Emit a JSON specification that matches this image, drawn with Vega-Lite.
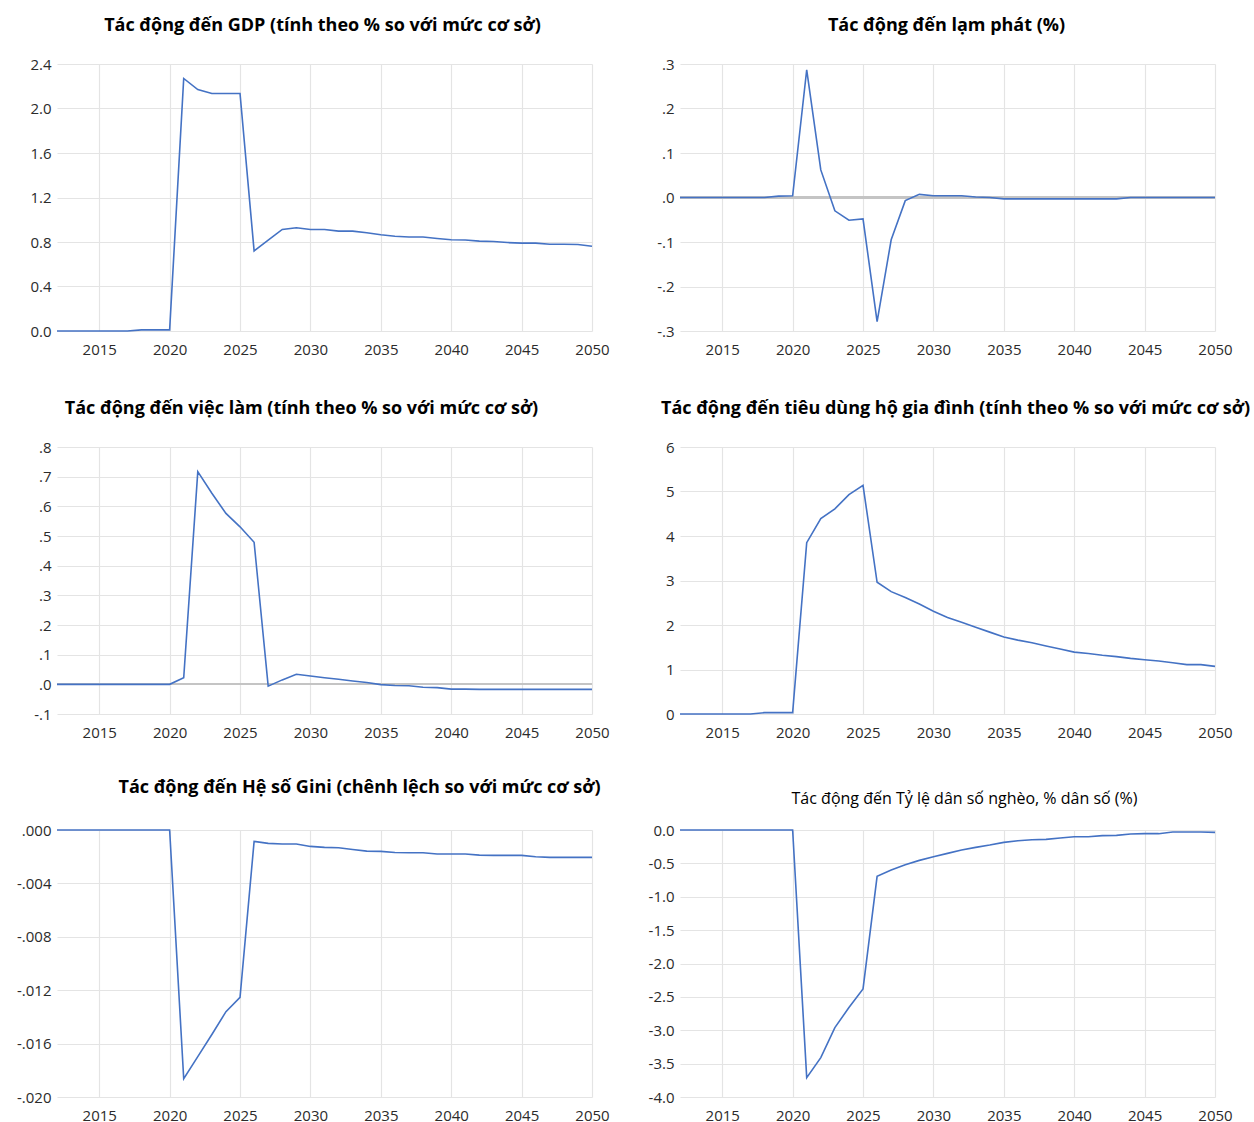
{
  "$schema": "https://vega.github.io/schema/vega-lite/v6.json",
  "background": "white",
  "padding": {"left": 16, "top": 17, "right": 5, "bottom": 5},
  "datasets": {
    "gdp": [
      {"year": 2012, "value": 0}, {"year": 2013, "value": 0}, {"year": 2014, "value": 0}, {"year": 2015, "value": 0},
      {"year": 2016, "value": 0}, {"year": 2017, "value": 0}, {"year": 2018, "value": 0.01}, {"year": 2019, "value": 0.01},
      {"year": 2020, "value": 0.01}, {"year": 2021, "value": 2.27}, {"year": 2022, "value": 2.17}, {"year": 2023, "value": 2.135},
      {"year": 2024, "value": 2.135}, {"year": 2025, "value": 2.135}, {"year": 2026, "value": 0.72}, {"year": 2027, "value": 0.817},
      {"year": 2028, "value": 0.913}, {"year": 2029, "value": 0.928}, {"year": 2030, "value": 0.913}, {"year": 2031, "value": 0.913},
      {"year": 2032, "value": 0.898}, {"year": 2033, "value": 0.898}, {"year": 2034, "value": 0.883}, {"year": 2035, "value": 0.865},
      {"year": 2036, "value": 0.852}, {"year": 2037, "value": 0.845}, {"year": 2038, "value": 0.845}, {"year": 2039, "value": 0.832},
      {"year": 2040, "value": 0.82}, {"year": 2041, "value": 0.818}, {"year": 2042, "value": 0.808}, {"year": 2043, "value": 0.805},
      {"year": 2044, "value": 0.795}, {"year": 2045, "value": 0.79}, {"year": 2046, "value": 0.79}, {"year": 2047, "value": 0.78},
      {"year": 2048, "value": 0.78}, {"year": 2049, "value": 0.778}, {"year": 2050, "value": 0.762}
    ],
    "inflation": [
      {"year": 2012, "value": 0}, {"year": 2013, "value": 0}, {"year": 2014, "value": 0}, {"year": 2015, "value": 0},
      {"year": 2016, "value": 0}, {"year": 2017, "value": 0}, {"year": 2018, "value": 0}, {"year": 2019, "value": 0.003},
      {"year": 2020, "value": 0.004}, {"year": 2021, "value": 0.287}, {"year": 2022, "value": 0.062}, {"year": 2023, "value": -0.03},
      {"year": 2024, "value": -0.051}, {"year": 2025, "value": -0.048}, {"year": 2026, "value": -0.279}, {"year": 2027, "value": -0.095},
      {"year": 2028, "value": -0.007}, {"year": 2029, "value": 0.007}, {"year": 2030, "value": 0.004}, {"year": 2031, "value": 0.004},
      {"year": 2032, "value": 0.004}, {"year": 2033, "value": 0.001}, {"year": 2034, "value": 0}, {"year": 2035, "value": -0.003},
      {"year": 2036, "value": -0.003}, {"year": 2037, "value": -0.003}, {"year": 2038, "value": -0.003}, {"year": 2039, "value": -0.003},
      {"year": 2040, "value": -0.003}, {"year": 2041, "value": -0.003}, {"year": 2042, "value": -0.003}, {"year": 2043, "value": -0.003},
      {"year": 2044, "value": 0}, {"year": 2045, "value": 0}, {"year": 2046, "value": 0}, {"year": 2047, "value": 0},
      {"year": 2048, "value": 0}, {"year": 2049, "value": 0}, {"year": 2050, "value": 0}
    ],
    "employment": [
      {"year": 2012, "value": 0}, {"year": 2013, "value": 0}, {"year": 2014, "value": 0}, {"year": 2015, "value": 0},
      {"year": 2016, "value": 0}, {"year": 2017, "value": 0}, {"year": 2018, "value": 0}, {"year": 2019, "value": 0},
      {"year": 2020, "value": 0}, {"year": 2021, "value": 0.022}, {"year": 2022, "value": 0.717}, {"year": 2023, "value": 0.644},
      {"year": 2024, "value": 0.576}, {"year": 2025, "value": 0.531}, {"year": 2026, "value": 0.479}, {"year": 2027, "value": -0.006},
      {"year": 2028, "value": 0.015}, {"year": 2029, "value": 0.034}, {"year": 2030, "value": 0.028}, {"year": 2031, "value": 0.022},
      {"year": 2032, "value": 0.017}, {"year": 2033, "value": 0.011}, {"year": 2034, "value": 0.006}, {"year": 2035, "value": -0.001},
      {"year": 2036, "value": -0.004}, {"year": 2037, "value": -0.005}, {"year": 2038, "value": -0.01}, {"year": 2039, "value": -0.011},
      {"year": 2040, "value": -0.016}, {"year": 2041, "value": -0.016}, {"year": 2042, "value": -0.017}, {"year": 2043, "value": -0.017},
      {"year": 2044, "value": -0.017}, {"year": 2045, "value": -0.017}, {"year": 2046, "value": -0.017}, {"year": 2047, "value": -0.017},
      {"year": 2048, "value": -0.017}, {"year": 2049, "value": -0.017}, {"year": 2050, "value": -0.017}
    ],
    "consumption": [
      {"year": 2012, "value": 0}, {"year": 2013, "value": 0}, {"year": 2014, "value": 0}, {"year": 2015, "value": 0},
      {"year": 2016, "value": 0}, {"year": 2017, "value": 0}, {"year": 2018, "value": 0.03}, {"year": 2019, "value": 0.03},
      {"year": 2020, "value": 0.03}, {"year": 2021, "value": 3.85}, {"year": 2022, "value": 4.39}, {"year": 2023, "value": 4.61},
      {"year": 2024, "value": 4.93}, {"year": 2025, "value": 5.14}, {"year": 2026, "value": 2.96}, {"year": 2027, "value": 2.75},
      {"year": 2028, "value": 2.62}, {"year": 2029, "value": 2.47}, {"year": 2030, "value": 2.31}, {"year": 2031, "value": 2.17},
      {"year": 2032, "value": 2.06}, {"year": 2033, "value": 1.95}, {"year": 2034, "value": 1.84}, {"year": 2035, "value": 1.73},
      {"year": 2036, "value": 1.66}, {"year": 2037, "value": 1.6}, {"year": 2038, "value": 1.53}, {"year": 2039, "value": 1.46},
      {"year": 2040, "value": 1.39}, {"year": 2041, "value": 1.36}, {"year": 2042, "value": 1.32}, {"year": 2043, "value": 1.29},
      {"year": 2044, "value": 1.25}, {"year": 2045, "value": 1.22}, {"year": 2046, "value": 1.19}, {"year": 2047, "value": 1.15},
      {"year": 2048, "value": 1.11}, {"year": 2049, "value": 1.11}, {"year": 2050, "value": 1.07}
    ],
    "gini": [
      {"year": 2012, "value": 0}, {"year": 2013, "value": 0}, {"year": 2014, "value": 0}, {"year": 2015, "value": 0},
      {"year": 2016, "value": 0}, {"year": 2017, "value": 0}, {"year": 2018, "value": 0}, {"year": 2019, "value": 0},
      {"year": 2020, "value": 0}, {"year": 2021, "value": -0.01863}, {"year": 2022, "value": -0.01698}, {"year": 2023, "value": -0.01532},
      {"year": 2024, "value": -0.01361}, {"year": 2025, "value": -0.01253}, {"year": 2026, "value": -0.00085}, {"year": 2027, "value": -0.001},
      {"year": 2028, "value": -0.00105}, {"year": 2029, "value": -0.00105}, {"year": 2030, "value": -0.00123}, {"year": 2031, "value": -0.0013},
      {"year": 2032, "value": -0.00133}, {"year": 2033, "value": -0.00146}, {"year": 2034, "value": -0.00158}, {"year": 2035, "value": -0.0016},
      {"year": 2036, "value": -0.00168}, {"year": 2037, "value": -0.0017}, {"year": 2038, "value": -0.0017}, {"year": 2039, "value": -0.0018},
      {"year": 2040, "value": -0.0018}, {"year": 2041, "value": -0.0018}, {"year": 2042, "value": -0.00188}, {"year": 2043, "value": -0.0019},
      {"year": 2044, "value": -0.0019}, {"year": 2045, "value": -0.0019}, {"year": 2046, "value": -0.002}, {"year": 2047, "value": -0.00205},
      {"year": 2048, "value": -0.00205}, {"year": 2049, "value": -0.00205}, {"year": 2050, "value": -0.00205}
    ],
    "poverty": [
      {"year": 2012, "value": 0}, {"year": 2013, "value": 0}, {"year": 2014, "value": 0}, {"year": 2015, "value": 0},
      {"year": 2016, "value": 0}, {"year": 2017, "value": 0}, {"year": 2018, "value": 0}, {"year": 2019, "value": 0},
      {"year": 2020, "value": 0}, {"year": 2021, "value": -3.71}, {"year": 2022, "value": -3.41}, {"year": 2023, "value": -2.96},
      {"year": 2024, "value": -2.66}, {"year": 2025, "value": -2.38}, {"year": 2026, "value": -0.695}, {"year": 2027, "value": -0.6},
      {"year": 2028, "value": -0.52}, {"year": 2029, "value": -0.455}, {"year": 2030, "value": -0.4}, {"year": 2031, "value": -0.35},
      {"year": 2032, "value": -0.3}, {"year": 2033, "value": -0.26}, {"year": 2034, "value": -0.225}, {"year": 2035, "value": -0.185},
      {"year": 2036, "value": -0.16}, {"year": 2037, "value": -0.145}, {"year": 2038, "value": -0.14}, {"year": 2039, "value": -0.12},
      {"year": 2040, "value": -0.1}, {"year": 2041, "value": -0.1}, {"year": 2042, "value": -0.085}, {"year": 2043, "value": -0.08},
      {"year": 2044, "value": -0.06}, {"year": 2045, "value": -0.055}, {"year": 2046, "value": -0.055}, {"year": 2047, "value": -0.03},
      {"year": 2048, "value": -0.03}, {"year": 2049, "value": -0.03}, {"year": 2050, "value": -0.035}
    ]
  },
  "config": {
    "locale": {"number": {"decimal": ".", "thousands": ",", "grouping": [3], "currency": ["$", ""], "minus": "-"}},
    "font": "Open Sans",
    "view": {"stroke": null},
    "axis": {
      "grid": true, "gridColor": "#e4e4e4", "gridWidth": 1.2, "domain": false, "ticks": false,
      "labelFont": "Open Sans", "labelFontSize": 15, "labelColor": "#2b2b2b", "title": null,
      "labelOverlap": false, "labelSeparation": 0
    },
    "axisX": {"labelPadding": 11, "labelFlush": false},
    "axisY": {"labelPadding": 6},
    "title": {"font": "Open Sans", "fontSize": 18, "fontWeight": "bold", "color": "#000000", "anchor": "middle", "offset": 22},
    "line": {"color": "#4472C4", "strokeWidth": 1.6}
  },
  "columns": 2,
  "bounds": "flush",
  "spacing": {"row": 116, "column": 88},
  "concat": [
    {
      "width": 535, "height": 267,
      "title": {"text": "Tác động đến GDP (tính theo % so với mức cơ sở)", "dx": -2},
      "data": {"name": "gdp"},
      "mark": "line",
      "encoding": {
        "x": {"field": "year", "type": "quantitative", "scale": {"domain": [2012, 2050], "nice": false, "zero": false},
              "axis": {"values": [2015, 2020, 2025, 2030, 2035, 2040, 2045, 2050], "format": "d"}},
        "y": {"field": "value", "type": "quantitative", "scale": {"domain": [0, 2.4], "nice": false},
              "axis": {"values": [0, 0.4, 0.8, 1.2, 1.6, 2.0, 2.4], "format": ".1f", "tickCount": 20}}
      }
    },
    {
      "width": 535, "height": 267,
      "title": {"text": "Tác động đến lạm phát (%)", "dx": -1},
      "data": {"name": "inflation"},
      "layer": [
        {"mark": {"type": "rule", "color": "#c4c4c4", "strokeWidth": 1.5},
         "encoding": {"y": {"datum": 0, "type": "quantitative", "scale": {"domain": [-0.3, 0.3], "nice": false},
                            "axis": {"values": [-0.3, -0.2, -0.1, 0, 0.1, 0.2, 0.3], "tickCount": 20, "labelExpr": "replace(format(datum.value, '.1f'), '0.', '.')"}}}},
        {
          "mark": "line",
          "encoding": {
            "x": {"field": "year", "type": "quantitative", "scale": {"domain": [2012, 2050], "nice": false, "zero": false},
                  "axis": {"values": [2015, 2020, 2025, 2030, 2035, 2040, 2045, 2050], "format": "d"}},
            "y": {"field": "value", "type": "quantitative", "scale": {"domain": [-0.3, 0.3], "nice": false},
                  "axis": {"values": [-0.3, -0.2, -0.1, 0, 0.1, 0.2, 0.3], "tickCount": 20, "labelExpr": "replace(format(datum.value, '.1f'), '0.', '.')"}}
          }
        }
      ]
    },
    {
      "width": 535, "height": 267,
      "title": {"text": "Tác động đến việc làm (tính theo % so với mức cơ sở)", "dx": -23},
      "data": {"name": "employment"},
      "layer": [
        {"mark": {"type": "rule", "color": "#c4c4c4", "strokeWidth": 1.5},
         "encoding": {"y": {"datum": 0, "type": "quantitative", "scale": {"domain": [-0.1, 0.8], "nice": false},
                            "axis": {"values": [-0.1, 0, 0.1, 0.2, 0.3, 0.4, 0.5, 0.6, 0.7, 0.8], "tickCount": 20, "labelExpr": "replace(format(datum.value, '.1f'), '0.', '.')"}}}},
        {
          "mark": "line",
          "encoding": {
            "x": {"field": "year", "type": "quantitative", "scale": {"domain": [2012, 2050], "nice": false, "zero": false},
                  "axis": {"values": [2015, 2020, 2025, 2030, 2035, 2040, 2045, 2050], "format": "d"}},
            "y": {"field": "value", "type": "quantitative", "scale": {"domain": [-0.1, 0.8], "nice": false},
                  "axis": {"values": [-0.1, 0, 0.1, 0.2, 0.3, 0.4, 0.5, 0.6, 0.7, 0.8], "tickCount": 20, "labelExpr": "replace(format(datum.value, '.1f'), '0.', '.')"}}
          }
        }
      ]
    },
    {
      "width": 535, "height": 267,
      "title": {"text": "Tác động đến tiêu dùng hộ gia đình (tính theo % so với mức cơ sở)", "dx": 8},
      "data": {"name": "consumption"},
      "mark": "line",
      "encoding": {
        "x": {"field": "year", "type": "quantitative", "scale": {"domain": [2012, 2050], "nice": false, "zero": false},
              "axis": {"values": [2015, 2020, 2025, 2030, 2035, 2040, 2045, 2050], "format": "d"}},
        "y": {"field": "value", "type": "quantitative", "scale": {"domain": [0, 6], "nice": false},
              "axis": {"values": [0, 1, 2, 3, 4, 5, 6], "format": "d", "tickCount": 20}}
      }
    },
    {
      "width": 535, "height": 267,
      "title": {"text": "Tác động đến Hệ số Gini (chênh lệch so với mức cơ sở)", "dx": 35, "offset": 26},
      "data": {"name": "gini"},
      "mark": "line",
      "encoding": {
        "x": {"field": "year", "type": "quantitative", "scale": {"domain": [2012, 2050], "nice": false, "zero": false},
              "axis": {"values": [2015, 2020, 2025, 2030, 2035, 2040, 2045, 2050], "format": "d"}},
        "y": {"field": "value", "type": "quantitative", "scale": {"domain": [-0.02, 0], "nice": false},
              "axis": {"values": [-0.02, -0.016, -0.012, -0.008, -0.004, 0], "tickCount": 20, "labelExpr": "replace(format(datum.value, '.3f'), '0.', '.')"}}
      }
    },
    {
      "width": 535, "height": 267,
      "title": {"text": "Tác động đến Tỷ lệ dân số nghèo, % dân số (%)", "dx": 17, "fontWeight": "normal", "fontSize": 16, "offset": 16},
      "data": {"name": "poverty"},
      "mark": "line",
      "encoding": {
        "x": {"field": "year", "type": "quantitative", "scale": {"domain": [2012, 2050], "nice": false, "zero": false},
              "axis": {"values": [2015, 2020, 2025, 2030, 2035, 2040, 2045, 2050], "format": "d"}},
        "y": {"field": "value", "type": "quantitative", "scale": {"domain": [-4, 0], "nice": false},
              "axis": {"values": [-4, -3.5, -3, -2.5, -2, -1.5, -1, -0.5, 0], "format": ".1f", "tickCount": 20}}
      }
    }
  ]
}
